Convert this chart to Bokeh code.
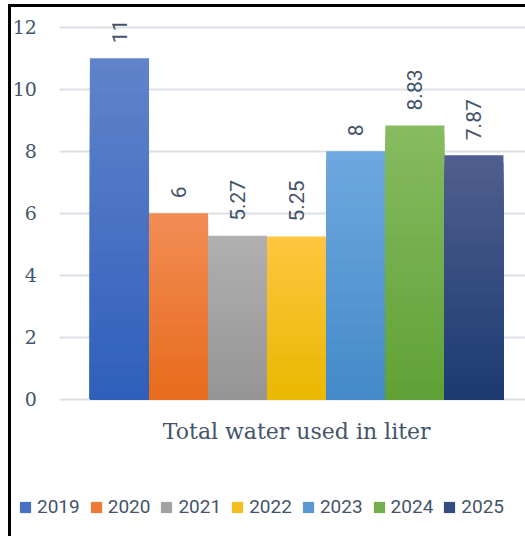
import numpy as np
from bokeh.plotting import figure
from bokeh.models import ColumnDataSource, FixedTicker, Legend, LegendItem, Range1d, Grid
from bokeh.core.properties import value
from bokeh.embed import file_html
from bokeh.resources import INLINE

# ---- data ----
category = "Total water used in liter"
years = ["2019", "2020", "2021", "2022", "2023", "2024", "2025"]
values = [11, 6, 5.27, 5.25, 8, 8.83, 7.87]
value_labels = ["11", "6", "5.27", "5.25", "8", "8.83", "7.87"]
y_ticks = [0, 2, 4, 6, 8, 10, 12]
top_colors = ["#6184CB", "#F28D56", "#B0B0B0", "#FFC541", "#6FA8DF", "#87BB60", "#505F8F"]
bottom_colors = ["#2F5FBB", "#E76B1B", "#959595", "#EAB700", "#438AC9", "#5FA136", "#1C3A70"]

TEXT = "#44546A"
N_STRIPS = 30
BAR_W = 0.1247  # share of the category band per bar


def hex2rgb(h):
    h = h.lstrip("#")
    return np.array([int(h[i:i + 2], 16) for i in (0, 2, 4)], dtype=float)


def rgb2hex(c):
    return "#%02x%02x%02x" % tuple(int(round(v)) for v in c)


X0, X1 = -0.6020, 0.4893
p = figure(width=517, height=532, output_backend="svg", toolbar_location=None,
           x_range=Range1d(X0, X1), y_range=Range1d(-4.525, 12.634),
           min_border=0, outline_line_color=None)
p.styles = {"margin-left": "8px", "margin-top": "4px",
            "border-left": "3px solid black", "border-top": "3px solid black",
            "box-sizing": "border-box"}

n = len(years)
legend_items = []
for i, (yr, v) in enumerate(zip(years, values)):
    xc = (i - (n - 1) / 2) * BAR_W
    tops = []
    cols = []
    c_top, c_bot = hex2rgb(top_colors[i]), hex2rgb(bottom_colors[i])
    for k in range(N_STRIPS):
        frac = (N_STRIPS - k) / N_STRIPS
        t = (N_STRIPS - k - 0.5) / N_STRIPS
        tops.append(v * frac)
        cols.append(rgb2hex(c_bot + (c_top - c_bot) * t))
    src = ColumnDataSource(dict(x=[xc] * N_STRIPS, top=tops, color=cols))
    r = p.vbar(x="x", top="top", bottom=0, width=BAR_W, fill_color="color",
               line_color=None, source=src)
    legend_items.append(LegendItem(label=yr, renderers=[r], index=N_STRIPS // 2))

# data labels
xs = [(i - (n - 1) / 2) * BAR_W for i in range(n)]
p.text(x=xs, y=values, text=value_labels, angle=np.pi / 2, y_offset=-15,
       text_align="left", text_baseline="middle", text_color=TEXT,
       text_font=value("Roboto"), text_font_size="21px")

# axes (pinned inside the frame)
p.yaxis.fixed_location = -0.5
p.yaxis.ticker = FixedTicker(ticks=y_ticks)
p.yaxis.axis_line_color = None
p.yaxis.major_tick_line_color = None
p.yaxis.minor_tick_line_color = None
p.yaxis.major_label_standoff = 17
p.yaxis.major_label_text_font = "DejaVu Serif"
p.yaxis.major_label_text_font_size = "19px"
p.yaxis.major_label_text_color = TEXT

p.xaxis.fixed_location = 0
p.xaxis.ticker = FixedTicker(ticks=[0])
p.xaxis.major_label_overrides = {0: category}
p.xaxis.axis_line_color = None
p.xaxis.major_tick_line_color = None
p.xaxis.minor_tick_line_color = None
p.xaxis.major_label_standoff = 14
p.xaxis.major_label_text_font = "DejaVu Serif"
p.xaxis.major_label_text_font_size = "22px"
p.xaxis.major_label_text_color = TEXT

p.xgrid.grid_line_color = None
p.ygrid.grid_line_color = "#DCE0E7"
p.ygrid.grid_line_width = 2
p.ygrid.bounds = (0, 12)
if "cross_bounds" in Grid.properties():
    p.ygrid.cross_bounds = (-0.5, X1)

legend = Legend(items=legend_items, orientation="horizontal", location=(7, 21),
                glyph_width=14, glyph_height=14, label_standoff=5, spacing=9,
                padding=0, margin=0, border_line_color=None, background_fill_alpha=0,
                label_text_font="Roboto", label_text_font_size="19px",
                label_text_color=TEXT)
p.add_layout(legend, "center")

open("out.html", "w").write(file_html(p, INLINE))
